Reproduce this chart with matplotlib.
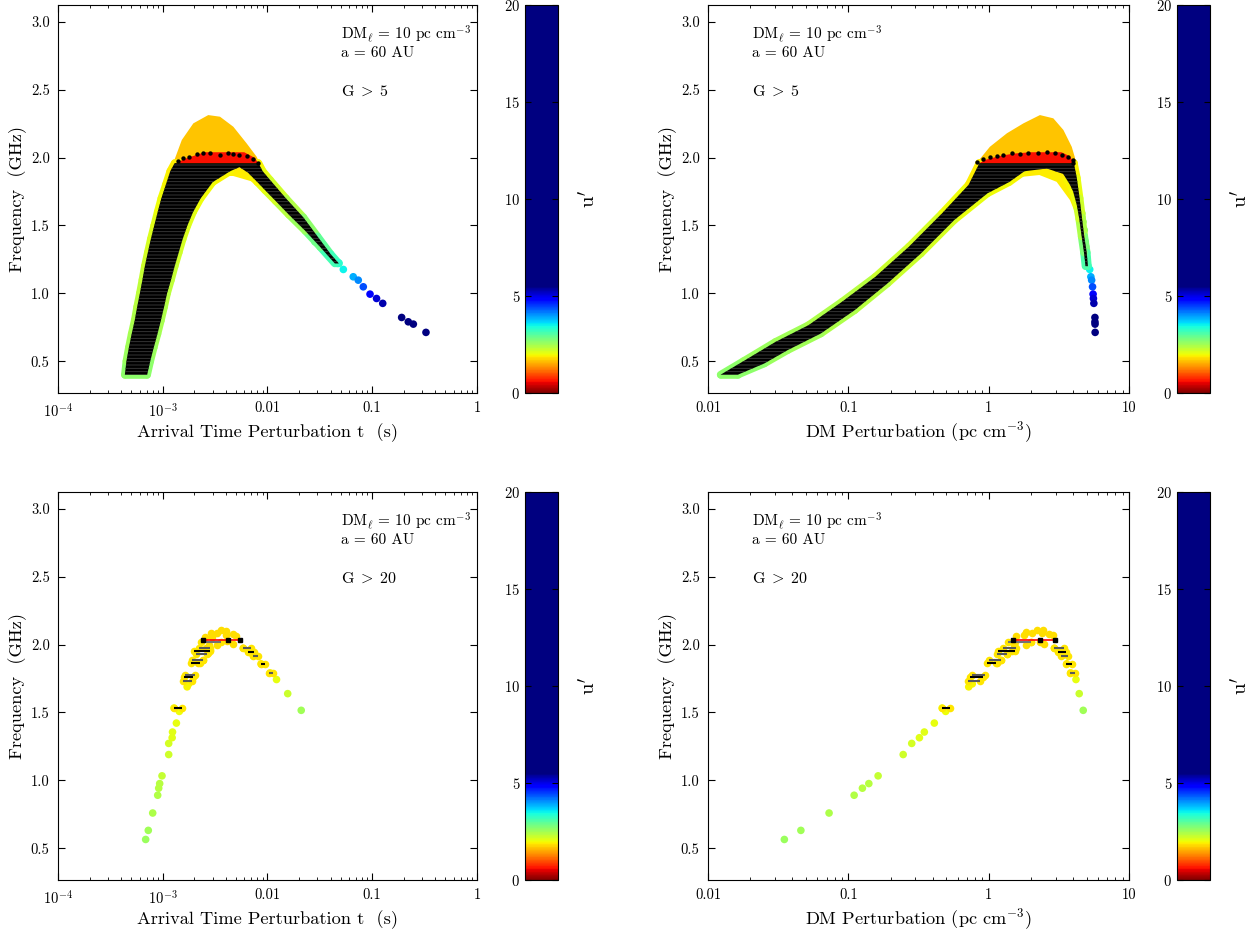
import numpy as np
import matplotlib
matplotlib.use('Agg')
import matplotlib.pyplot as plt
from matplotlib.colors import ListedColormap, Normalize
from matplotlib.collections import LineCollection
from matplotlib.cm import ScalarMappable
from matplotlib.ticker import NullFormatter

plt.rcParams['font.family'] = ['cmr10', 'DejaVu Serif']
plt.rcParams['mathtext.fontset'] = 'cm'
plt.rcParams['axes.formatter.use_mathtext'] = True
plt.rcParams['hatch.linewidth'] = 0.6

# ---------------- top row: G > 5 ----------------
# black band of error bars (outline vertices), arrival time panel
tl_black_t = [4.35e-4, 4.5e-4, 4.75e-4, 5.05e-4, 5.4e-4, 5.7e-4, 6.05e-4, 6.4e-4, 6.75e-4, 7.2e-4, 7.7e-4,
              8.3e-4, 8.95e-4, 9.7e-4, 1.07e-3, 1.18e-3, 1.3e-3,
              8.2e-3, 9.0e-3, 1.06e-2, 1.5e-2, 2.2e-2, 3.0e-2, 4.0e-2, 4.8e-2,
              4.4e-2, 3.2e-2, 2.3e-2, 1.6e-2, 1.2e-2, 9.5e-3, 8.0e-3, 6.5e-3, 5.4e-3, 4.4e-3, 3.0e-3,
              2.3e-3, 1.95e-3, 1.72e-3,
              1.55e-3, 1.42e-3, 1.3e-3, 1.2e-3, 1.1e-3, 1.03e-3, 9.6e-4, 8.9e-4, 8.2e-4, 7.6e-4, 7.1e-4]
tl_black_freq = [0.40, 0.50, 0.60, 0.70, 0.80, 0.90, 1.00, 1.10, 1.20, 1.30, 1.40,
                 1.50, 1.60, 1.70, 1.80, 1.90, 1.96,
                 1.96, 1.90, 1.835, 1.70, 1.56, 1.42, 1.29, 1.22,
                 1.22, 1.34, 1.46, 1.58, 1.68, 1.76, 1.82, 1.89, 1.93, 1.90, 1.82,
                 1.70, 1.60, 1.50,
                 1.40, 1.30, 1.20, 1.10, 1.00, 0.90, 0.80, 0.70, 0.60, 0.50, 0.40]
tl_black_u = [2.65, 2.6, 2.55, 2.5, 2.45, 2.4, 2.35, 2.3, 2.25, 2.2, 2.15,
              2.1, 2.05, 2.0, 1.95, 1.9, 1.85,
              1.9, 2.0, 2.1, 2.3, 2.5, 2.8, 3.1, 3.3,
              3.3, 3.0, 2.7, 2.45, 2.25, 2.1, 2.0, 1.9, 1.9, 1.9, 1.95,
              2.0, 2.05, 2.1,
              2.15, 2.2, 2.25, 2.3, 2.35, 2.4, 2.45, 2.5, 2.55, 2.6, 2.65]

tl_lobe_t = [2.4e-3, 8.4e-3, 1.05e-2, 1.4e-2, 1.7e-2, 1.2e-2, 7.3e-3, 4.7e-3, 3.5e-3, 2.6e-3]
tl_lobe_freq = [1.96, 1.96, 1.80, 1.67, 1.58, 1.70, 1.822, 1.865, 1.865, 1.84]
tl_cap_t = [1.26e-3, 1.52e-3, 1.96e-3, 2.72e-3, 3.52e-3, 4.72e-3, 6.33e-3, 7.88e-3, 8.4e-3]
tl_cap_freq = [1.96, 2.13, 2.253, 2.314, 2.302, 2.228, 2.105, 2.007, 1.96]
tl_red_t = [1.35e-3, 1.6e-3, 2.1e-3, 2.5e-3, 6.0e-3, 7.5e-3, 8.2e-3]
tl_red_freq = [1.96, 1.99, 2.02, 2.04, 2.04, 2.0, 1.96]
tl_dot_t = [1.41e-3, 1.57e-3, 1.78e-3, 2.11e-3, 2.44e-3, 2.82e-3, 3.52e-3, 4.17e-3, 4.72e-3, 5.38e-3,
            6.33e-3, 7.31e-3, 8.17e-3]
tl_dot_freq = [1.975, 1.995, 2.007, 2.024, 2.036, 2.032, 2.019, 2.036, 2.027, 2.019, 2.012, 1.988, 1.958]

# DM panel
tr_black_dm = [0.0123, 0.0179, 0.0303, 0.052, 0.090, 0.156, 0.27, 0.465, 0.72, 0.86,
               4.05, 4.25, 4.45, 4.62, 4.8, 5.0, 5.1,
               4.9, 4.78, 4.6, 4.42, 4.25, 4.0, 3.8, 3.4, 2.6, 1.8, 1.4, 0.98, 0.568, 0.329, 0.19, 0.111,
               0.0637, 0.0369, 0.0252, 0.0163]
tr_black_freq = [0.40, 0.50, 0.642, 0.765, 0.937, 1.122, 1.343, 1.589, 1.80, 1.96,
                 1.96, 1.85, 1.70, 1.56, 1.42, 1.30, 1.20,
                 1.20, 1.30, 1.42, 1.55, 1.65, 1.75, 1.80, 1.88, 1.92, 1.90, 1.82, 1.737, 1.540, 1.294, 1.073,
                 0.876, 0.704, 0.581, 0.483, 0.40]
tr_black_u = [2.65, 2.6, 2.55, 2.45, 2.4, 2.3, 2.2, 2.1, 1.95, 1.85,
              1.9, 2.0, 2.1, 2.3, 2.6, 2.9, 3.2,
              3.2, 2.9, 2.6, 2.3, 2.1, 2.0, 1.95, 1.9, 1.9, 1.9, 1.95, 2.0, 2.1, 2.2, 2.3,
              2.4, 2.5, 2.55, 2.6, 2.65]
tr_lobe_dm = [1.2, 4.1, 4.5, 4.62, 4.3, 3.8, 3.05, 2.3, 1.77, 1.3]
tr_lobe_freq = [1.96, 1.96, 1.62, 1.46, 1.55, 1.687, 1.822, 1.872, 1.86, 1.83]
tr_cap_dm = [0.82, 1.02, 1.35, 1.77, 2.32, 2.89, 3.41, 3.91, 4.12, 4.15]
tr_cap_freq = [1.96, 2.08, 2.18, 2.253, 2.314, 2.29, 2.204, 2.08, 2.0, 1.96]
tr_red_dm = [0.86, 0.95, 1.2, 1.5, 2.0, 3.3, 3.8, 4.05]
tr_red_freq = [1.96, 1.985, 2.012, 2.03, 2.04, 2.04, 2.01, 1.96]
tr_dot_dm = [0.822, 0.916, 1.02, 1.14, 1.27, 1.46, 1.67, 1.92, 2.26, 2.59, 2.97, 3.31, 3.70, 3.97, 4.01]
tr_dot_freq = [1.965, 1.987, 2.002, 2.012, 2.019, 2.032, 2.027, 2.036, 2.032, 2.041, 2.036, 2.019, 2.007,
               1.982, 1.958]

# high-u tail (same images in both top panels)
tail_freq = [1.589, 1.527, 1.466, 1.380, 1.343, 1.306, 1.269, 1.220, 1.176, 1.122, 1.097, 1.048, 0.994,
             0.962, 0.926, 0.822, 0.790, 0.773, 0.712]
tail_u = [2.5, 2.6, 2.7, 2.9, 3.0, 3.1, 3.2, 3.3, 3.5, 3.9, 4.1, 4.4, 4.9, 5.1, 5.3, 8, 9, 10, 12]
tail_t = [0.0176, 0.0204, 0.0237, 0.0284, 0.0329, 0.0367, 0.0410, 0.0464, 0.0530, 0.0659, 0.0736, 0.0822,
          0.0953, 0.110, 0.126, 0.191, 0.221, 0.247, 0.326]
tail_dm = [4.62, 4.70, 4.80, 4.88, 4.92, 4.95, 4.98, 5.02, 5.25, 5.35, 5.42, 5.50, 5.55, 5.58, 5.62, 5.72,
           5.72, 5.73, 5.74]

# ---------------- bottom row: G > 20 ----------------
bot_freq = [0.564, 0.631, 0.759, 0.890, 0.942, 0.976, 1.033, 1.190, 1.272, 1.314, 1.356, 1.422, 1.533, 1.508,
            1.689, 1.711, 1.974, 1.952, 1.920, 1.859, 1.792, 1.743, 1.639, 1.516]
bot_u = [2.55, 2.5, 2.45, 2.4, 2.35, 2.35, 2.3, 2.2, 2.15, 2.1, 2.1, 2.05, 2.0, 2.0,
         1.95, 1.95, 1.8, 1.8, 1.85, 1.9, 1.95, 2.05, 2.25, 2.5]
bot_t = [6.87e-4, 7.28e-4, 8.02e-4, 8.95e-4, 9.15e-4, 9.35e-4, 9.84e-4, 1.14e-3, 1.14e-3, 1.23e-3, 1.24e-3,
         1.35e-3, 1.28e-3, 1.44e-3, 1.71e-3, 1.77e-3, 5.87e-3, 6.56e-3, 7.31e-3, 8.67e-3, 1.06e-2, 1.22e-2,
         1.56e-2, 2.10e-2]
bot_dm = [0.0350, 0.0459, 0.0729, 0.110, 0.126, 0.140, 0.163, 0.246, 0.283, 0.321, 0.348, 0.410, 0.466, 0.494,
          0.721, 0.764, 2.94, 3.14, 3.35, 3.60, 3.84, 4.19, 4.42, 4.72]

clus_t = [2.55e-3, 2.91e-3, 2.97e-3, 3.32e-3, 3.57e-3, 4.02e-3, 3.99e-3, 4.66e-3, 5.00e-3, 4.13e-3, 4.66e-3,
          3.32e-3, 2.78e-3, 2.72e-3, 2.82e-3, 2.59e-3, 2.40e-3, 2.18e-3]
clus_t_freq = [2.056, 2.085, 2.056, 2.085, 2.105, 2.100, 2.073, 2.081, 2.061, 2.024, 2.007, 1.996, 1.994,
               1.937, 1.957, 1.974, 1.888, 1.863]
clus_dm = [1.57, 1.79, 1.85, 2.05, 2.20, 2.39, 2.45, 2.71, 2.86, 2.32, 2.48, 1.85, 2.00, 1.54, 1.52, 1.46,
           1.35, 1.23, 1.14]
clus_dm_freq = [2.061, 2.068, 2.093, 2.088, 2.105, 2.088, 2.105, 2.081, 2.068, 2.019, 2.007, 2.000, 2.019,
                2.019, 1.994, 1.955, 1.933, 1.888, 1.866]

bar_freq = [1.533, 1.735, 1.758, 1.780, 1.866, 1.888, 1.933, 1.955, 1.974, 2.016,
            1.974, 1.947, 1.918, 1.859, 1.789]
bar_t_lo = [1.28e-3, 1.55e-3, 1.59e-3, 1.63e-3, 1.86e-3, 1.89e-3, 2.08e-3, 1.99e-3, 2.22e-3, 2.30e-3,
            5.87e-3, 6.47e-3, 7.23e-3, 8.67e-3, 1.03e-2]
bar_t_hi = [1.54e-3, 1.89e-3, 1.96e-3, 2.03e-3, 2.27e-3, 2.44e-3, 2.67e-3, 2.83e-3, 2.83e-3, 3.57e-3,
            6.92e-3, 7.43e-3, 8.17e-3, 9.47e-3, 1.12e-2]
bar_dm_lo = [0.466, 0.71, 0.74, 0.764, 0.97, 1.0, 1.14, 1.16, 1.26, 1.37, 2.92, 3.12, 3.26, 3.54, 3.80]
bar_dm_hi = [0.53, 0.87, 0.91, 0.942, 1.13, 1.22, 1.35, 1.54, 1.57, 2.0, 3.44, 3.54, 3.70, 3.91, 4.12]
bar_color = ['k', '0.35', 'k', '0.35', 'k', '0.35', '0.35', 'k', '0.35', '0.45',
             '0.35', 'k', '0.35', 'k', '0.35']

red_freq = [2.036, 2.036, 2.036]
red_t = [2.44e-3, 4.17e-3, 5.46e-3]
red_dm = [1.48, 2.33, 2.99]

freq_ticks = [0.5, 1.0, 1.5, 2.0, 2.5, 3.0]

# colour scale: jet_r stretched over u' = 0..5.5, navy above
jet_r = plt.get_cmap('jet_r')
ucmap = ListedColormap(jet_r(np.clip(np.linspace(0, 20, 512) / 5.5, 0, 1)))
unorm = Normalize(0, 20)


def ucol(u):
    return ucmap(unorm(u))


def setup(ax, cax, xlim, xticks, xlabels, xlabel, ann_x, glabel):
    ax.set_xscale('log')
    ax.set_xlim(xlim)
    ax.set_ylim(0.265, 3.125)
    ax.set_xticks(xticks)
    ax.set_xticklabels(xlabels)
    ax.xaxis.set_minor_formatter(NullFormatter())
    ax.set_yticks(freq_ticks)
    ax.set_yticklabels(['%.1f' % f for f in freq_ticks])
    ax.tick_params(which='both', direction='in', top=True, right=True, labelsize=10.5)
    ax.tick_params(which='major', length=5, pad=6)
    ax.tick_params(which='minor', length=2.5)
    ax.set_ylabel('Frequency  (GHz)', fontsize=13.2, labelpad=3)
    ax.set_xlabel(xlabel, fontsize=13.2, labelpad=3)
    ax.text(ann_x, 0.952, r'DM$_\ell$ = 10 pc cm$^{-3}$', transform=ax.transAxes, fontsize=11, va='top')
    ax.text(ann_x, 0.895, 'a = 60 AU', transform=ax.transAxes, fontsize=11, va='top')
    ax.text(ann_x, 0.795, glabel, transform=ax.transAxes, fontsize=11.5, va='top')

    cb = fig.colorbar(ScalarMappable(norm=unorm, cmap=ucmap), cax=cax, ticks=[0, 5, 10, 15, 20])
    cb.outline.set_linewidth(0.8)
    cax.tick_params(direction='in', left=True, right=True, labelleft=True, labelright=False,
                    labelsize=10.5, length=4)
    cax.yaxis.set_label_position('right')
    cb.set_label(r'u$^{\prime}$', fontsize=15, labelpad=14)


def draw_top(ax, bx, by, bu, lx, ly, capx, capy, redx, redy, dotx, doty, tailx):
    ax.fill(capx, capy, color=ucol(1.65), lw=0, zorder=1)
    ax.fill(lx, ly, color=ucol(1.9), lw=0, zorder=1)
    ax.scatter(tailx, tail_freq, c=tail_u, cmap=ucmap, norm=unorm, s=30, lw=0, zorder=1.5)
    n = len(bx)
    segs = [[(bx[i], by[i]), (bx[(i + 1) % n], by[(i + 1) % n])] for i in range(n)]
    segc = [ucol(0.5 * (bu[i] + bu[(i + 1) % n])) for i in range(n)]
    ax.add_collection(LineCollection(segs, colors=segc, linewidths=5.5, capstyle='round',
                                     joinstyle='round', zorder=2))
    ax.fill(bx, by, facecolor='k', edgecolor='#3c3c3c', lw=0, hatch='-----', zorder=3)
    ax.fill(redx, redy, color=ucol(0.6), lw=0, zorder=4)
    ax.scatter(dotx, doty, s=10, c='k', lw=0, zorder=5)


def draw_bottom(ax, px, clx, cly, lo, hi, rx):
    ax.scatter(px, bot_freq, c=bot_u, cmap=ucmap, norm=unorm, s=30, lw=0, zorder=2)
    ax.scatter(clx, cly, color=ucol(1.8), s=30, lw=0, zorder=2)
    ax.scatter(lo, bar_freq, color=ucol(1.85), s=30, lw=0, zorder=2)
    ax.scatter(hi, bar_freq, color=ucol(1.85), s=30, lw=0, zorder=2)
    ax.hlines(bar_freq, lo, hi, colors=bar_color, lw=1.5, zorder=3)
    ax.plot(rx, red_freq, color='red', lw=1.2, marker='s', ms=3.5, mfc='k', mec='k', zorder=4)


fig = plt.figure(figsize=(12.54, 9.36), dpi=100)
ax_tl = fig.add_axes([0.04625, 0.5801, 0.3341, 0.4145])
cax_tl = fig.add_axes([0.4187, 0.5801, 0.0263, 0.4145])
ax_tr = fig.add_axes([0.5646, 0.5801, 0.3357, 0.4145])
cax_tr = fig.add_axes([0.9386, 0.5801, 0.0263, 0.4145])
ax_bl = fig.add_axes([0.04625, 0.0598, 0.3341, 0.4145])
cax_bl = fig.add_axes([0.4187, 0.0598, 0.0263, 0.4145])
ax_br = fig.add_axes([0.5646, 0.0598, 0.3357, 0.4145])
cax_br = fig.add_axes([0.9386, 0.0598, 0.0263, 0.4145])

t_ticks = [1e-4, 1e-3, 1e-2, 1e-1, 1]
t_labels = [r'10$^{-4}$', r'10$^{-3}$', '0.01', '0.1', '1']
dm_ticks = [0.01, 0.1, 1, 10]
dm_labels = ['0.01', '0.1', '1', '10']
t_xlabel = 'Arrival Time Perturbation t  (s)'
dm_xlabel = r'DM Perturbation (pc cm$^{-3}$)'

draw_top(ax_tl, tl_black_t, tl_black_freq, tl_black_u, tl_lobe_t, tl_lobe_freq, tl_cap_t, tl_cap_freq,
         tl_red_t, tl_red_freq, tl_dot_t, tl_dot_freq, tail_t)
draw_top(ax_tr, tr_black_dm, tr_black_freq, tr_black_u, tr_lobe_dm, tr_lobe_freq, tr_cap_dm, tr_cap_freq,
         tr_red_dm, tr_red_freq, tr_dot_dm, tr_dot_freq, tail_dm)
draw_bottom(ax_bl, bot_t, clus_t, clus_t_freq, bar_t_lo, bar_t_hi, red_t)
draw_bottom(ax_br, bot_dm, clus_dm, clus_dm_freq, bar_dm_lo, bar_dm_hi, red_dm)

setup(ax_tl, cax_tl, (1e-4, 1), t_ticks, t_labels, t_xlabel, 0.675, r'G$\;>\;$5')
setup(ax_tr, cax_tr, (0.01, 10), dm_ticks, dm_labels, dm_xlabel, 0.105, r'G$\;>\;$5')
setup(ax_bl, cax_bl, (1e-4, 1), t_ticks, t_labels, t_xlabel, 0.675, r'G$\;>\;$20')
setup(ax_br, cax_br, (0.01, 10), dm_ticks, dm_labels, dm_xlabel, 0.105, r'G$\;>\;$20')

fig.savefig('out.png', dpi=100)
